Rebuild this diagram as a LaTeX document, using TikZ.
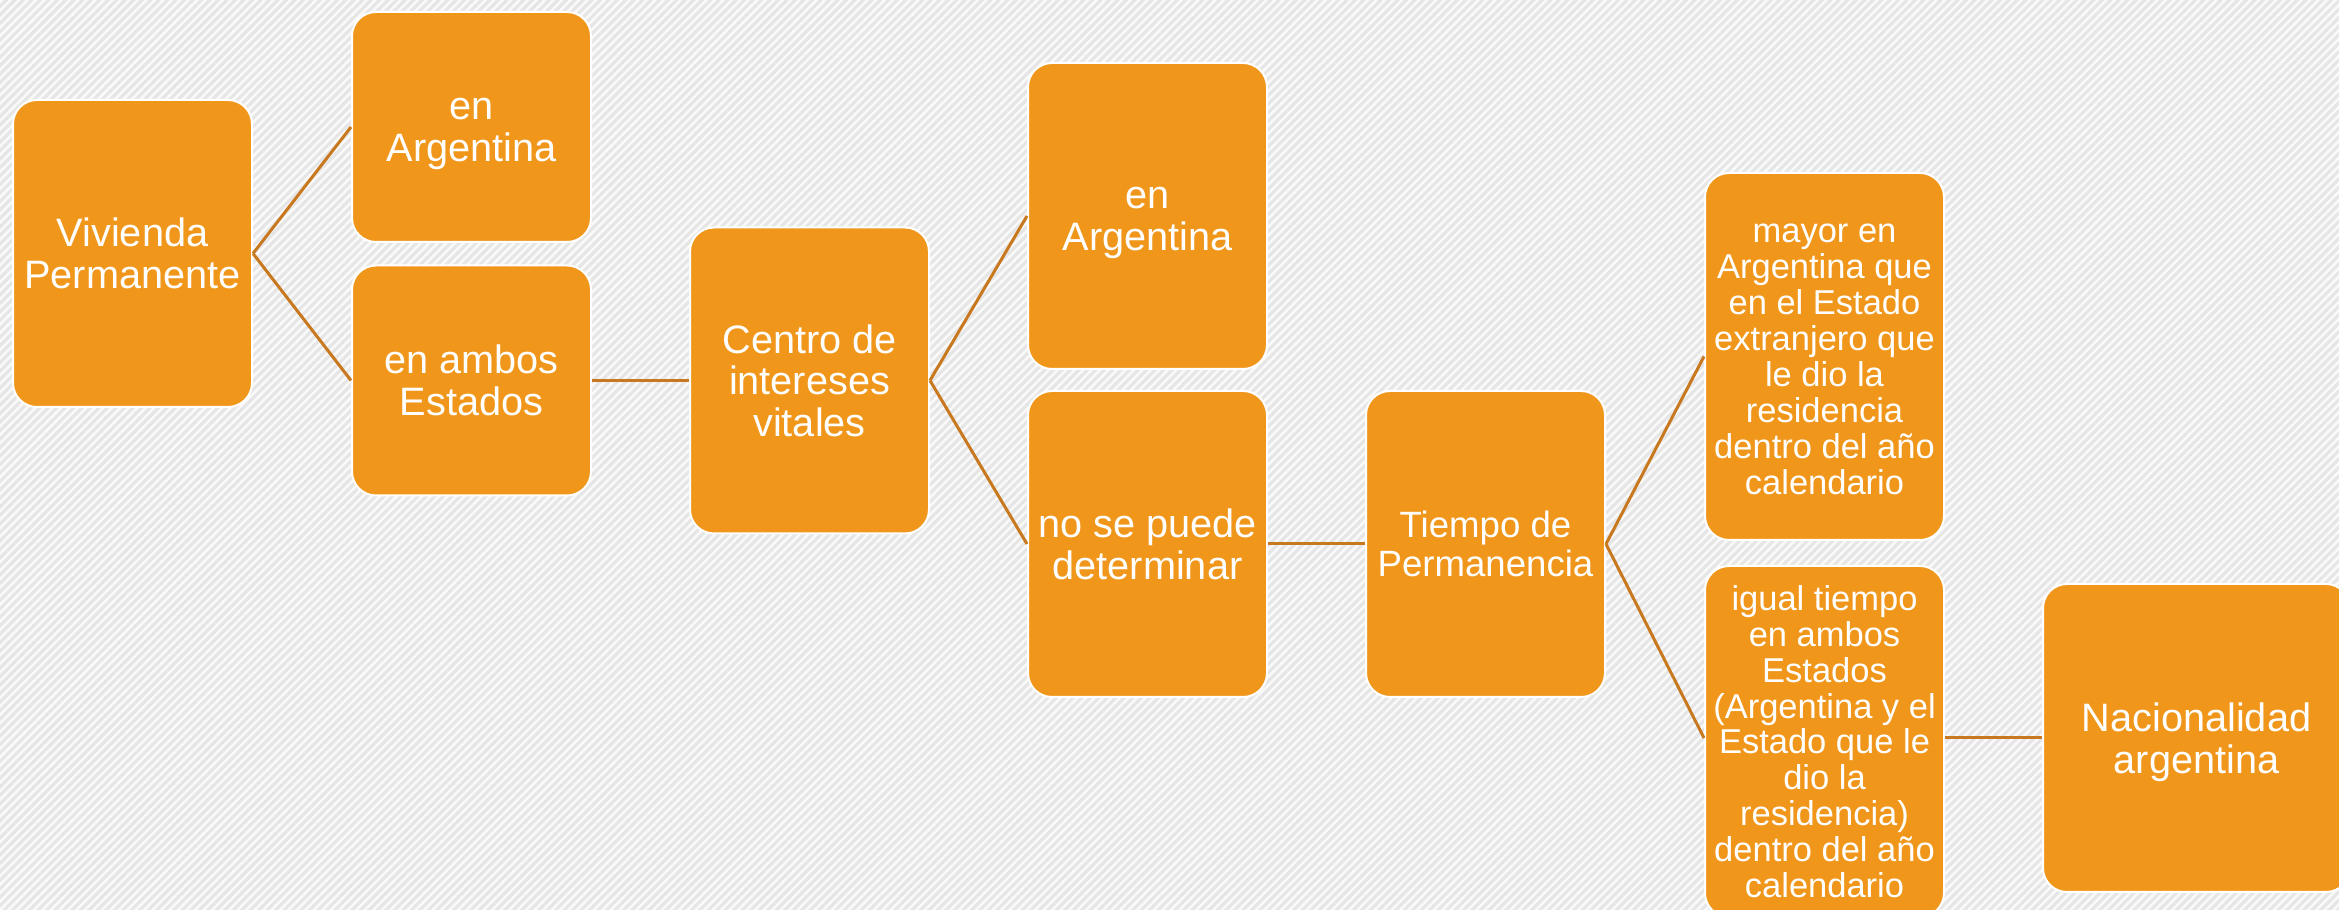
\documentclass[tikz,border=0pt]{standalone}
\usepackage{fontspec}
\setmainfont{Liberation Sans}
\usetikzlibrary{patterns.meta}
\definecolor{boxfill}{RGB}{240,150,26}
\definecolor{linkcol}{RGB}{200,120,30}
\definecolor{bggray}{RGB}{230,230,230}
\newcommand\tlines[1]{\vbox{\halign{\hfil##\hfil\cr\vphantom{A}#1\crcr}}}
\newcommand\fsmain{\fontsize{11.9pt}{12.55pt}\selectfont}
\newcommand\fsmid{\fontsize{10.98pt}{11.58pt}\selectfont}
\newcommand\fssmall{\fontsize{10.35pt}{10.77pt}\selectfont}
\tikzset{
  card/.style={rectangle, draw=white, line width=0.6pt, fill=boxfill,
    rounded corners=7.2pt, text=white, inner sep=0pt, text depth=0pt,
    font=\fsmain, minimum width=71.7pt},
  link/.style={draw=linkcol, line width=0.9pt}
}
\begin{document}
\begin{tikzpicture}[x=0.3pt,y=-0.3pt]
\useasboundingbox (0,0) rectangle (2339,910);
\fill[bggray] (0,0) rectangle (2339,910);
\fill[pattern={Lines[angle=45,distance=1.8pt,line width=0.75pt]}, pattern color=white!96!gray] (0,0) rectangle (2339,910);

\node[card, minimum height=92.1pt] (b1) at (132.5,253.5) {\tlines{Vivienda\cr Permanente}};
\node[card, minimum height=69pt] (b2) at (471.5,127) {\tlines{en\cr Argentina}};
\node[card, minimum height=69pt] (b3) at (471.5,380.5) {\tlines{en ambos\cr Estados}};
\node[card, minimum height=91.8pt] (b4) at (809.5,380.5) {\tlines{Centro de\cr intereses\cr vitales}};
\node[card, minimum height=91.8pt] (b5) at (1147.5,216) {\tlines{en\cr Argentina}};
\node[card, minimum height=91.8pt] (b6) at (1147.5,544) {\tlines{no se puede\cr determinar}};
\node[card, minimum height=91.8pt, font=\fsmid] (b7) at (1485.5,544) {\tlines{Tiempo de\cr Permanencia}};
\node[card, minimum height=110.1pt, font=\fssmall] (b8) at (1824.5,356.5) {\tlines{mayor en\cr Argentina que\cr en el Estado\cr extranjero que\cr le dio la\cr residencia\cr dentro del año\cr calendario}};
\node[card, minimum height=105.3pt, font=\fssmall] (b9) at (1824.5,741.5) {\tlines{igual tiempo\cr en ambos\cr Estados\cr (Argentina y el\cr Estado que le\cr dio la\cr residencia)\cr dentro del año\cr calendario}};
\node[card, minimum height=92.4pt, minimum width=92.1pt] (b10) at (2196.5,738) {\tlines{Nacionalidad\cr argentina}};

\draw[link] (b1.east) -- (b2.west);
\draw[link] (b1.east) -- (b3.west);
\draw[link] (b3.east) -- (b4.west);
\draw[link] (b4.east) -- (b5.west);
\draw[link] (b4.east) -- (b6.west);
\draw[link] (b6.east) -- (b7.west);
\draw[link] (b7.east) -- (b8.west);
\draw[link] (b7.east) -- (b9.west |- b10.west);
\draw[link] (b9.east |- b10.west) -- (b10.west);
\end{tikzpicture}
\end{document}
